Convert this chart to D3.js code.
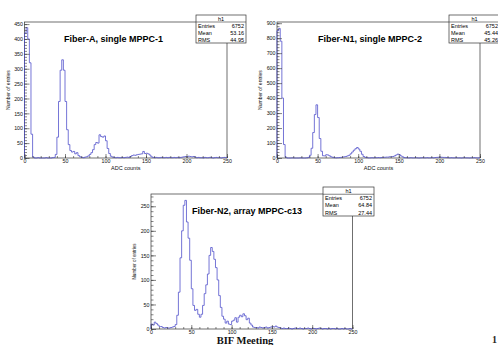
<!DOCTYPE html>
<html>
<head>
<meta charset="utf-8">
<script src="https://cdn.jsdelivr.net/npm/d3@7"></script>
<style>
  body { margin: 0; background: #fff; }
  svg { display: block; font-family: "Liberation Sans", Arial, sans-serif; }
</style>
</head>
<body>
<script>
// histogram contents, bins of 2 ADC counts from 0 to 250
const binWidth = 2;
const xTicks = [0, 50, 100, 150, 200, 250];

const fiberA = [420, 438, 400, 320, 80, 3,
  0, 0, 1, 0, 0, 0, 0, 1, 0, 0, 0, 1,
  2, 12, 70, 190, 295, 330, 295, 190, 95, 45, 25, 20, 22, 14, 18, 8, 4, 2, 1, 3, 4, 7,
  12, 18, 28, 45, 52, 50, 78, 72, 70, 74, 58, 32, 15, 6, 3,
  2, 1, 2, 1, 1, 2, 1, 2, 3, 2,
  5, 8, 10, 9, 11, 12, 13, 14, 22, 15, 16, 14, 10, 4,
  2, 1, 2, 1, 1, 2, 1, 1, 2, 1, 2, 1, 1, 2, 1, 2, 1, 2,
  3, 4, 5, 4, 6, 5, 4, 5, 3,
  1, 2, 1, 1, 0, 2, 1, 1, 2, 1, 0, 1, 2, 1, 1, 0, 1, 2, 1];

const fiberN1 = [850, 865, 780, 400, 90, 5,
  0, 0, 0, 1, 0, 0, 0, 0, 1, 0, 0, 0,
  1, 4, 18, 65, 170, 290, 355, 270, 130, 45, 15, 14, 22, 20, 14, 8, 4, 2, 1, 2, 3, 4,
  6, 8, 10, 14, 18, 28, 40, 52, 62, 70, 60, 45, 25, 10, 4,
  2, 1, 1, 2, 1, 2, 2, 3, 2, 3,
  4, 5, 6, 6, 8, 8, 10, 14, 20, 26, 22, 14, 8, 3,
  2, 1, 1, 2, 1, 1, 2, 1, 0, 1, 2, 1, 1, 2, 1, 1, 2, 1,
  3, 4, 5, 6, 5, 4, 4, 3, 2,
  1, 2, 1, 1, 2, 1, 1, 0, 1, 2, 1, 1, 0, 1, 1, 2, 1, 0, 1];

const fiberN2 = [10, 8, 14, 11, 8, 5, 5, 3, 2, 3, 2, 2, 3, 4, 5,
  9, 28, 75, 145, 200, 252, 262, 218, 185, 140, 82, 48, 38, 40, 30,
  24, 30, 48, 72, 90, 112, 150, 166, 158, 142, 125, 100, 68, 44, 26,
  20, 12, 16, 10, 9, 16, 18, 23, 14, 24, 28, 25, 31, 27, 19,
  22, 12, 8, 4, 3,
  3, 2, 4, 3, 2, 3, 4, 2, 3, 4,
  5, 4, 6, 4, 3,
  2, 1, 2, 1, 1, 2, 1, 0, 1, 2, 1, 1, 2, 1, 0, 1, 1, 2, 1, 0, 1, 1, 0, 1,
  2, 1, 0, 1, 1, 0, 1, 0, 1, 1, 0, 1, 0, 0, 1, 0, 1, 0, 0, 1, 0];

const titles = ['Fiber-A, single MPPC-1', 'Fiber-N1, single MPPC-2', 'Fiber-N2, array MPPC-c13'];
const statLabels = ['Entries', 'Mean', 'RMS'];
const statsA = ['6752', '53.16', '44.95'];
const statsN1 = ['6752', '45.44', '45.26'];
const statsN2 = ['6752', '64.84', '27.44'];

// page layout
const panels = [
  { data: fiberA, title: titles[0], stats: statsA, yMax: 457, yStep: 50, yMinor: 10,
    left: 24.5, right: 227, top: 22, bottom: 158, titleX: 64, titleY: 41.5,
    box: [196, 15, 246, 43], yTitleX: 10, xTitle: true, yTitleSize: 5 },
  { data: fiberN1, title: titles[1], stats: statsN1, yMax: 908, yStep: 100, yMinor: 20,
    left: 277, right: 480, top: 22, bottom: 158, titleX: 318, titleY: 41.5,
    box: [449, 15, 500, 43], yTitleX: 262, xTitle: true, yTitleSize: 5 },
  { data: fiberN2, title: titles[2], stats: statsN2, yMax: 275, yStep: 50, yMinor: 10,
    left: 151, right: 352.5, top: 194, bottom: 329, titleX: 192, titleY: 214,
    box: [323, 187, 374, 216], yTitleX: 136, xTitle: false, yTitleSize: 4.5 }
];

const svg = d3.select('body').append('svg')
  .attr('width', 498)
  .attr('height', 345);

function drawPanel(p) {
  const x = d3.scaleLinear().domain([0, 250]).range([p.left, p.right]);
  const y = d3.scaleLinear().domain([0, p.yMax]).range([p.bottom, p.top]);
  const g = svg.append('g');

  // frame
  g.append('rect')
    .attr('x', p.left).attr('y', p.top)
    .attr('width', p.right - p.left).attr('height', p.bottom - p.top)
    .attr('fill', 'none').attr('stroke', '#333').attr('stroke-width', 0.7);

  // histogram outline
  const pts = [[0, 0]].concat(p.data.map((v, i) => [i * binWidth, v]), [[250, 0]]);
  const line = d3.line()
    .x(d => x(d[0]))
    .y(d => y(d[1]))
    .curve(d3.curveStepAfter);
  g.append('path')
    .datum(pts)
    .attr('fill', 'none')
    .attr('stroke', '#5252cc')
    .attr('stroke-width', 0.8)
    .attr('d', line);

  // axes, ROOT style ticks inside the frame
  const yTicks = d3.range(0, p.yMax + 0.1, p.yStep);
  const yMinor = d3.range(0, p.yMax + 0.1, p.yMinor);
  const xMinor = d3.range(0, 250.1, 10);

  const tidy = sel => {
    sel.select('.domain').remove();
    sel.selectAll('.tick line').attr('stroke', '#333').attr('stroke-width', 0.6);
    sel.selectAll('text').attr('font-size', 5.3).attr('fill', '#111')
      .attr('font-family', '"Liberation Sans", Arial, sans-serif');
  };

  g.append('g').attr('transform', `translate(0,${p.bottom})`)
    .call(d3.axisBottom(x).tickValues(xMinor).tickFormat('').tickSize(-2))
    .call(tidy);
  g.append('g').attr('transform', `translate(0,${p.bottom})`)
    .call(d3.axisBottom(x).tickValues(xTicks).tickFormat(d3.format('d')).tickSize(-4).tickPadding(1.5))
    .call(tidy);
  g.append('g').attr('transform', `translate(${p.left},0)`)
    .call(d3.axisLeft(y).tickValues(yMinor).tickFormat('').tickSize(-2.5))
    .call(tidy);
  g.append('g').attr('transform', `translate(${p.left},0)`)
    .call(d3.axisLeft(y).tickValues(yTicks).tickFormat(d3.format('d')).tickSize(-5).tickPadding(1.5))
    .call(tidy);

  // axis titles
  if (p.xTitle) {
    g.append('text')
      .attr('x', (p.left + p.right) / 2).attr('y', p.bottom + 12)
      .attr('text-anchor', 'middle').attr('font-size', 5.5).attr('fill', '#111')
      .text('ADC counts');
  }
  g.append('text')
    .attr('transform', `translate(${p.yTitleX},${(p.top + p.bottom) / 2}) rotate(-90)`)
    .attr('text-anchor', 'middle').attr('font-size', p.yTitleSize).attr('fill', '#111')
    .text('Number of entries');

  // title
  g.append('text')
    .attr('x', p.titleX).attr('y', p.titleY)
    .attr('font-size', 9).attr('font-weight', 'bold').attr('fill', '#000')
    .text(p.title);

  // stats box
  const [bx0, by0, bx1, by1] = p.box;
  const rowH = (by1 - by0) / 4;
  g.append('rect')
    .attr('x', bx0).attr('y', by0).attr('width', bx1 - bx0).attr('height', by1 - by0)
    .attr('fill', '#fff').attr('stroke', '#333').attr('stroke-width', 0.7);
  g.append('line')
    .attr('x1', bx0).attr('x2', bx1).attr('y1', by0 + rowH).attr('y2', by0 + rowH)
    .attr('stroke', '#333').attr('stroke-width', 0.6);
  g.append('text')
    .attr('x', (bx0 + bx1) / 2).attr('y', by0 + rowH - 1.5)
    .attr('text-anchor', 'middle').attr('font-size', 5.5).text('h1');
  statLabels.forEach((lab, i) => {
    const yy = by0 + rowH * (i + 2) - 1.5;
    g.append('text').attr('x', bx0 + 2).attr('y', yy).attr('font-size', 5.5).text(lab);
    g.append('text').attr('x', bx1 - 2).attr('y', yy).attr('text-anchor', 'end')
      .attr('font-size', 5.5).text(p.stats[i]);
  });
}

panels.forEach(drawPanel);

// slide footer
svg.append('text')
  .attr('x', 245).attr('y', 343.5)
  .attr('text-anchor', 'middle')
  .attr('font-family', '"Liberation Serif", "Times New Roman", serif')
  .attr('font-weight', 'bold').attr('font-size', 10.5).attr('fill', '#111')
  .text('BIF Meeting');
svg.append('text')
  .attr('x', 492).attr('y', 343)
  .attr('font-family', '"Liberation Serif", "Times New Roman", serif')
  .attr('font-weight', 'bold').attr('font-size', 10).attr('fill', '#2a2520')
  .text('1');
</script>
</body>
</html>
